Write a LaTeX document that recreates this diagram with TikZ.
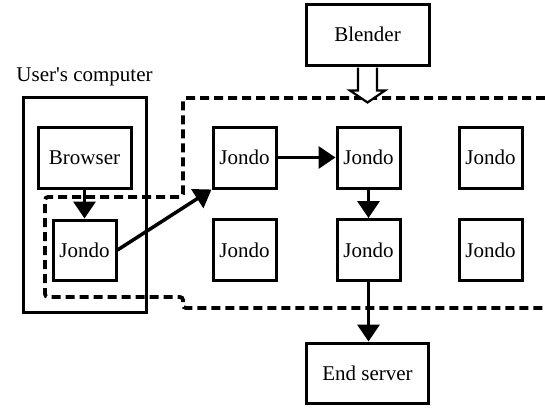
\documentclass[tikz,border=0pt]{standalone}
\usepackage{fontspec}
\setmainfont{Liberation Serif}
\usetikzlibrary{arrows.meta,calc}
\begin{document}
\begin{tikzpicture}[x=1pt,y=-1pt,
  box/.style={draw,line width=3pt,fill=white,inner sep=0pt,font=\fontsize{21}{24}\selectfont},
  jondo/.style={box,minimum width=63pt,minimum height=61pt},
  link/.style={line width=3.5pt,-{Triangle[length=17pt,width=22pt]}},
  zone/.style={line width=3.8pt,dash pattern=on 9pt off 5pt,rounded corners=3pt}]
\useasboundingbox (0,0) rectangle (545,407);

% the user's computer
\draw[line width=3pt] (23,97) rectangle (146,312);
\node[font=\fontsize{21}{24}\selectfont] (ucl) at (84.5,77) {User\textquotesingle s computer};

% dashed boundary of the Jondo network
\draw[zone] (545,98) -- (183,98) -- (183,197) -- (45,197) -- (45,297)
  -- (183,297) -- (183,308) -- (545,308);

% boxes
\node[box,minimum width=123pt,minimum height=61pt] (blender) at (367.5,34.5) {Blender};
\node[box,minimum width=93pt,minimum height=61pt] (browser) at (84.5,157.5) {Browser};
\node[jondo,minimum height=60pt] (ju) at (84.5,250) {Jondo};
\node[jondo] (j11) at (244.5,157.5) {Jondo};
\node[jondo] (j12) at (368.5,157.5) {Jondo};
\node[jondo] (j13) at (490.5,157.5) {Jondo};
\node[jondo] (j21) at (244.5,250) {Jondo};
\node[jondo] (j22) at (368.5,250) {Jondo};
\node[jondo] (j23) at (490.5,250) {Jondo};
\node[box,minimum width=122pt,minimum height=60pt] (end) at (367.5,373) {End server};

% hollow arrow from Blender into the network
\draw[line width=2.2pt,fill=white,line join=miter]
  ($(blender.south)+(-9.5,1)$) -- ++(0,23) -- ++(-8,0) -- ++(17.5,12)
  -- ++(17.5,-12) -- ++(-8,0) -- ++(0,-23);

% connections
\draw[link] (browser.south) -- (ju.north);
\draw[link] (ju.east) -- (j11.south west);
\draw[link] (j11.east) -- (j12.west);
\draw[link] (j12.south) -- (j22.north);
\draw[link] (j22.south) -- (j22.south |- end.north);
\end{tikzpicture}
\end{document}
